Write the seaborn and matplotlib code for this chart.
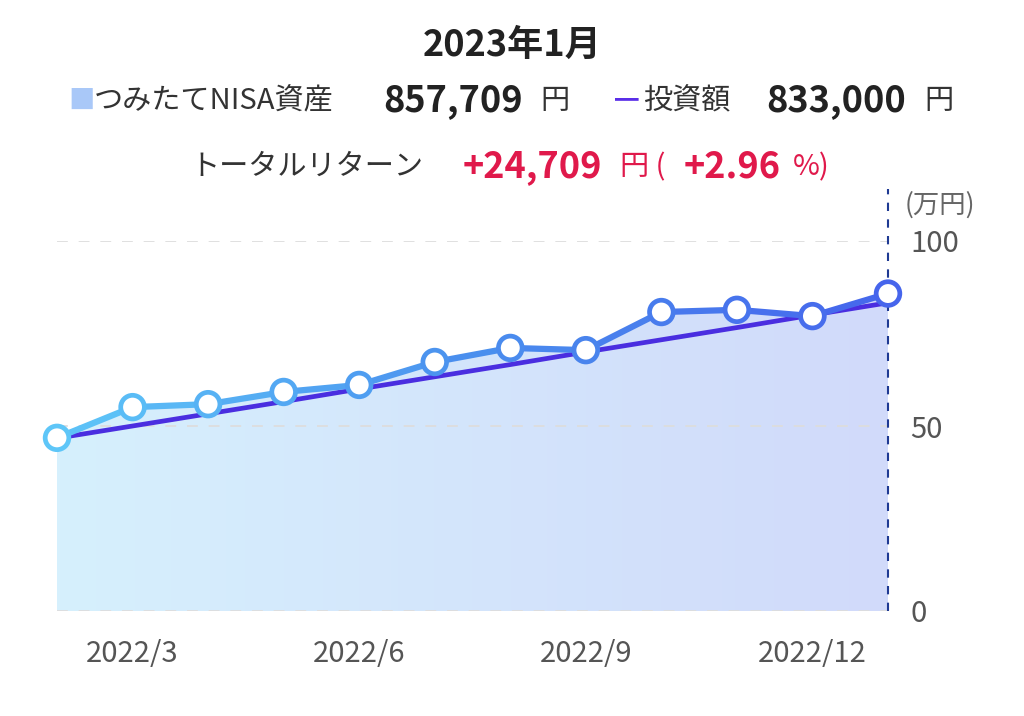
import numpy as np
import pandas as pd
import matplotlib
matplotlib.use("Agg")
import matplotlib.pyplot as plt
import seaborn as sb
from matplotlib.colors import LinearSegmentedColormap

# datos (万円)
meses = ["2022/2", "2022/3", "2022/4", "2022/5", "2022/6", "2022/7",
         "2022/8", "2022/9", "2022/10", "2022/11", "2022/12", "2023/1"]
activo = [46.8, 55.1, 55.9, 59.2, 61.1, 67.3, 71.1, 70.5, 80.8, 81.4, 79.7, 85.8]
inversion = [46.7, 50.0, 53.3, 56.6, 60.0, 63.3, 66.6, 70.0, 73.3, 76.6, 80.0, 83.3]
ticks_x = ["2022/3", "2022/6", "2022/9", "2022/12"]
ticks_y = [0, 50, 100]

sb.set_style("white")
plt.rcParams['font.family'] = ['Noto Sans CJK JP', 'DejaVu Sans']

df = pd.DataFrame({"mes": meses, "activo": activo, "inversion": inversion})
df["i"] = range(len(df))

W, H = 1024, 716
fig = plt.figure(figsize=(W / 100, H / 100), dpi=100)
x0, x1, y0, y1 = 57, 888, 241, 611
ax = fig.add_axes([x0 / W, 1 - y1 / H, (x1 - x0) / W, (y1 - y0) / H])
ax.set_xlim(0, len(meses) - 1)
ax.set_ylim(0, 100)

cmap_linea = LinearSegmentedColormap.from_list("l", ["#5ec6f8", "#4a8fee", "#4665ec"])
cmap_fondo = LinearSegmentedColormap.from_list("f", ["#d6f0fd", "#d1dafa"])

# relleno con degradado
poly = ax.fill_between(df["i"], df["activo"], 0, color="none")
grad = np.linspace(0, 1, 256).reshape(1, -1)
img = ax.imshow(grad, extent=[0, len(meses) - 1, 0, 100], aspect="auto",
                cmap=cmap_fondo, origin="lower", zorder=1)
img.set_clip_path(poly.get_paths()[0], transform=ax.transData)

# lineas de cuadricula
for v in ticks_y:
    ax.axhline(v, color="#dddddd", lw=1.3, ls=(0, (6, 6)), zorder=2)
ax.plot([len(meses) - 1] * 2, [0, 114], color="#1f3a93", lw=1.5, ls=(0, (4, 4)),
        clip_on=False, zorder=2)

# linea de inversion
sb.lineplot(data=df, x="i", y="inversion", color="#4a2ee0", lw=3.4, ax=ax, zorder=3)

# linea de activo con degradado
n = len(meses) - 1
for k in range(n):
    ax.plot(df["i"][k:k + 2], df["activo"][k:k + 2], color=cmap_linea((k + 0.5) / n),
            lw=4.5, solid_capstyle="round", zorder=4, clip_on=False)
cols = [cmap_linea(k / n) for k in range(len(meses))]
ax.scatter(df["i"], df["activo"], s=290, facecolor="white", edgecolors=cols,
           linewidths=3.4, zorder=5, clip_on=False)

ax.set_xlabel("")
ax.set_ylabel("")
ax.set_xticks([meses.index(t) for t in ticks_x])
ax.set_xticklabels(ticks_x, color="#555555", fontsize=21)
ax.tick_params(axis="x", length=0, pad=20)
ax.yaxis.tick_right()
ax.set_yticks(ticks_y)
ax.set_yticklabels([str(v) for v in ticks_y], color="#555555", fontsize=21)
ax.tick_params(axis="y", length=0, pad=16)
for s in ax.spines.values():
    s.set_visible(False)


def txt(x, y, s, **kw):
    fig.text(x / W, 1 - y / H, s, va="center", **kw)


txt(512, 45, "2023年1月", ha="center", fontsize=26, fontweight="bold", color="#222222")
txt(68, 101, "■", fontsize=19, color="#a9c8f8")
txt(94, 101, "つみたてNISA資産", fontsize=21, color="#333333")
txt(383, 101, "857,709", fontsize=26, fontweight="bold", color="#222222")
txt(540, 101, "円", fontsize=21, color="#333333")
txt(615, 101, "━", fontsize=17, color="#5a2ee8")
txt(643, 101, "投資額", fontsize=21, color="#333333")
txt(766, 101, "833,000", fontsize=26, fontweight="bold", color="#222222")
txt(924, 101, "円", fontsize=21, color="#333333")

rojo = "#e0194b"
txt(190, 167, "トータルリターン", fontsize=21, color="#333333")
txt(463, 167, "+24,709", fontsize=26, fontweight="bold", color=rojo)
txt(620, 167, "円 (", fontsize=21, color=rojo)
txt(684, 167, "+2.96", fontsize=26, fontweight="bold", color=rojo)
txt(793, 167, "%)", fontsize=21, color=rojo)
txt(905, 205, "(万円)", fontsize=19, color="#666666")

fig.savefig("out.png", dpi=100)
